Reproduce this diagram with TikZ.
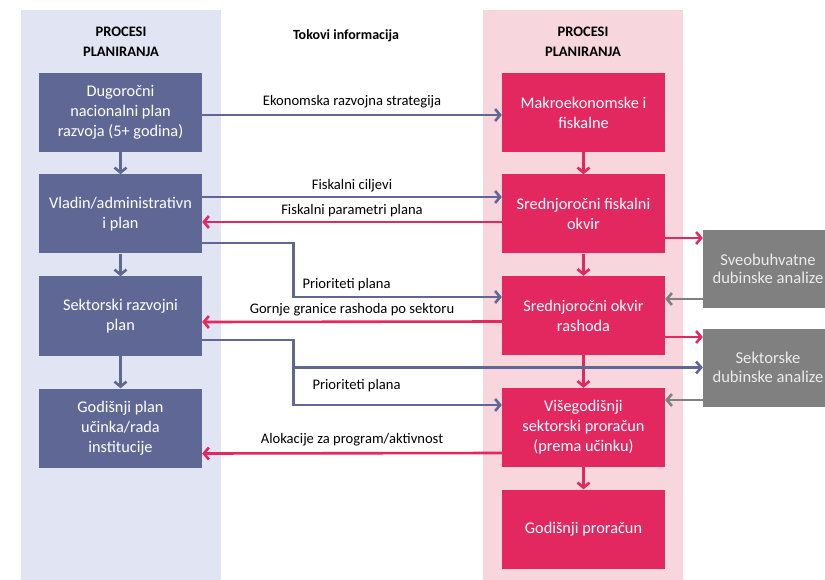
\documentclass[tikz,border=0pt]{standalone}
\usepackage{fontspec}
\setmainfont{Carlito}
\usetikzlibrary{arrows.meta}

\definecolor{planblue}{HTML}{5F6894}
\definecolor{budgetpink}{HTML}{E3275F}
\definecolor{reviewgrey}{HTML}{808080}
\definecolor{planbg}{HTML}{E1E4F2}
\definecolor{budgetbg}{HTML}{F8D6DD}

\tikzset{
	planbox/.style={fill=planblue, text=white, minimum width=163pt, minimum height=79pt, align=center, inner sep=2pt, font=\fontsize{16.3}{20}\selectfont},
	budgetbox/.style={planbox, fill=budgetpink},
	reviewbox/.style={planbox, fill=reviewgrey, minimum width=130pt, minimum height=78pt, text=white!92!black, font=\fontsize{16.6}{18.5}\selectfont},
	flow/.style={line width=2.6pt, -{Straight Barb[length=5pt,width=12pt]}},
	flowlabel/.style={font=\fontsize{14.6}{16}\selectfont, inner sep=3pt, text=black},
	headline/.style={font=\bfseries\fontsize{14.5}{20}\selectfont, align=center}
}

\begin{document}
\begin{tikzpicture}[x=1pt,y=-1pt]
	\useasboundingbox (0,0) rectangle (825,580);
	\fill[planbg]   (21,10)  rectangle (221,580);
	\fill[budgetbg] (483,10) rectangle (683,580);

	\node[headline] (lhead) at (121,42) {PROCESI\\PLANIRANJA};
	\node[headline] (rhead) at (583,42) {PROCESI\\PLANIRANJA};
	\node[headline, font=\bfseries\fontsize{14}{16}\selectfont] (mhead) at (346,36) {Tokovi informacija};

	% planning side
	\node[planbox] (l1) at (120.5,112.5) {Dugoročni\\nacionalni plan\\razvoja (5+ godina)};
	\node[planbox] (l2) at (120.5,214)   {Vladin/administrativn\\i plan};
	\node[planbox] (l3) at (120.5,316)   {Sektorski razvojni\\plan};
	\node[planbox] (l4) at (120.5,428)   {Godišnji plan\\učinka/rada\\institucije};

	% budget side
	\node[budgetbox] (r1) at (583.5,112.5) {Makroekonomske i\\fiskalne};
	\node[budgetbox] (r2) at (583.5,214)   {Srednjoročni fiskalni\\okvir};
	\node[budgetbox] (r3) at (583.5,315.5) {Srednjoročni okvir\\rashoda};
	\node[budgetbox] (r4) at (583.5,427.5) {Višegodišnji\\sektorski proračun\\(prema učinku)};
	\node[budgetbox] (r5) at (583.5,529)   {Godišnji proračun};

	% reviews
	\node[reviewbox] (g1) at (768,269)   {Sveobuhvatne\\dubinske analize};
	\node[reviewbox] (g2) at (768,367.5) {Sektorske\\dubinske analize};

	\draw[flow, planblue] (l1) -- (l2);
	\draw[flow, planblue] (l2) -- (l3);
	\draw[flow, planblue] (l3) -- (l4);
	\draw[flow, budgetpink] (r1) -- (r2);
	\draw[flow, budgetpink] (r2) -- (r3);
	\draw[flow, budgetpink] (r3) -- (r4);
	\draw[flow, budgetpink] (r4) -- (r5);

	\draw[flow, planblue] ([yshift=-2.5pt]l1.east) -- ([yshift=-2.5pt]r1.west)
		node[flowlabel, midway, above=3pt] (t1) {Ekonomska razvojna strategija};
	\draw[flow, planblue] ([yshift=17pt]l2.east) -- ([yshift=17pt]r2.west)
		node[flowlabel, midway, above=1pt] (t2) {Fiskalni ciljevi};
	\draw[flow, budgetpink] ([yshift=-8pt]r2.west) -- ([yshift=-8pt]l2.east)
		node[flowlabel, midway, above=1pt] (t3) {Fiskalni parametri plana};
	\draw[flow, planblue] ([yshift=-29pt]l2.east) -- ++(91,0) |- ([yshift=18.5pt]r3.west)
		node[flowlabel, pos=0.5, anchor=south west, xshift=5pt, yshift=2pt] (t4) {Prioriteti plana};
	\draw[flow, budgetpink] ([yshift=-6pt]r3.west) -- ([yshift=-6pt]l3.east)
		node[flowlabel, midway, above=1pt] (t5) {Gornje granice rashoda po sektoru};
	\draw[flow, planblue] ([yshift=-24pt]l3.east) -- ++(91,0) coordinate (fork) |- ([yshift=22.5pt]r4.west)
		node[flowlabel, pos=0.5, anchor=south west, xshift=15pt, yshift=9pt] (t6) {Prioriteti plana};
	\draw[flow, planblue] (fork |- g2.west) -- (g2.west);
	\draw[flow, budgetpink] ([yshift=-25.5pt]r4.west) -- ([yshift=-25.5pt]l4.east)
		node[flowlabel, midway, above=3pt] (t7) {Alokacije za program/aktivnost};

	\draw[flow, budgetpink] ([yshift=-24pt]r2.east) -- ([yshift=31pt]g1.west);
	\draw[flow, reviewgrey] ([yshift=-30pt]g1.west) -- ([yshift=16.5pt]r3.east);
	\draw[flow, budgetpink] ([yshift=-21.5pt]r3.east) -- ([yshift=30.5pt]g2.west);
	\draw[flow, reviewgrey] ([yshift=-32.5pt]g2.west) -- ([yshift=27.5pt]r4.east);
\end{tikzpicture}
\end{document}
